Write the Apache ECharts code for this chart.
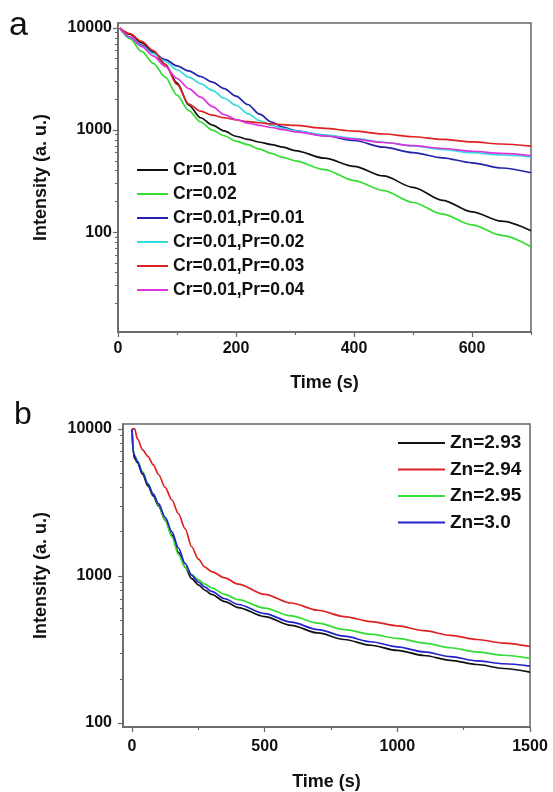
<!DOCTYPE html>
<html>
<head>
<meta charset="utf-8"/>
<title>Decay curves</title>
<script src="https://cdn.jsdelivr.net/npm/echarts@6/dist/echarts.min.js"></script>
<style>
  html, body { margin: 0; padding: 0; background: #fff; }
  #main { width: 553px; height: 792px; }
</style>
</head>
<body>
<div id="main"></div>
<script>
// ---- panel a : Cr / Pr doped samples ----
var timeA = [3, 20, 40, 60, 80, 100, 120, 140, 160, 180, 200, 220, 240, 260, 280, 300, 350, 400, 450, 500, 550, 600, 650, 700];
var cr001     = [10000, 8700, 7200, 5800, 4400, 2900, 1750, 1320, 1120, 980, 870, 810, 760, 720, 680, 630, 530, 440, 355, 275, 205, 158, 128, 103];
var cr002     = [10000, 7900, 5900, 4500, 3300, 2200, 1550, 1200, 1000, 880, 780, 720, 650, 590, 540, 500, 410, 320, 255, 195, 150, 118, 93, 72];
var crPr001   = [10000, 8100, 6800, 5700, 4900, 4250, 3800, 3350, 2950, 2550, 2150, 1780, 1430, 1200, 1070, 990, 880, 790, 680, 600, 535, 478, 425, 382];
var crPr002   = [10000, 8100, 6700, 5600, 4700, 3900, 3300, 2850, 2450, 2050, 1750, 1450, 1240, 1110, 1040, 985, 900, 830, 760, 700, 645, 600, 570, 545];
var crPr003   = [10000, 8800, 7400, 6000, 4400, 2800, 1800, 1530, 1400, 1320, 1260, 1210, 1180, 1150, 1130, 1110, 1040, 975, 915, 860, 810, 765, 730, 695];
var crPr004   = [10000, 8200, 6600, 5300, 4200, 3200, 2550, 2100, 1700, 1420, 1270, 1170, 1110, 1060, 1010, 960, 880, 815, 755, 705, 660, 620, 590, 560];
var namesA = ['Cr=0.01', 'Cr=0.02', 'Cr=0.01,Pr=0.01', 'Cr=0.01,Pr=0.02', 'Cr=0.01,Pr=0.03', 'Cr=0.01,Pr=0.04'];
var colorsA = ['#111111', '#33dd33', '#2222aa', '#33dddd', '#dd2222', '#dd33dd'];
var valuesA = [cr001, cr002, crPr001, crPr002, crPr003, crPr004];

// ---- panel b : Zn content ----
var timeB = [0, 5, 10, 20, 40, 60, 80, 100, 125, 150, 175, 200, 225, 250, 275, 300, 350, 400, 500, 600, 700, 800, 900, 1000, 1100, 1200, 1300, 1400, 1500];
var zn293 = [10000, 6800, 6300, 5900, 4900, 4100, 3500, 3000, 2400, 1900, 1450, 1150, 960, 870, 800, 750, 670, 610, 530, 462, 410, 370, 338, 312, 288, 267, 250, 235, 222];
var zn294 = [10000, 10000, 10000, 8600, 7200, 6500, 5700, 4900, 4000, 3300, 2650, 2100, 1580, 1300, 1150, 1070, 970, 880, 750, 655, 585, 530, 490, 458, 425, 395, 370, 350, 332];
var zn295 = [10000, 7100, 6600, 6100, 5100, 4250, 3600, 3050, 2400, 1850, 1400, 1150, 1020, 940, 880, 830, 750, 690, 605, 535, 478, 432, 402, 377, 350, 325, 305, 289, 275];
var zn300 = [10000, 7000, 6500, 6000, 5000, 4200, 3600, 3100, 2500, 2000, 1550, 1220, 1010, 910, 840, 785, 700, 640, 555, 485, 432, 390, 357, 330, 305, 283, 265, 253, 244];
var namesB = ['Zn=2.93', 'Zn=2.94', 'Zn=2.95', 'Zn=3.0'];
var colorsB = ['#111111', '#dd2222', '#33dd33', '#2222cc'];
var valuesB = [zn293, zn294, zn295, zn300];

// tick positions
var yLabels = [100, 1000, 10000];
var yMinorA = [20, 30, 40, 50, 60, 70, 80, 90, 200, 300, 400, 500, 600, 700, 800, 900, 2000, 3000, 4000, 5000, 6000, 7000, 8000, 9000];
var yMinorB = [200, 300, 400, 500, 600, 700, 800, 900, 2000, 3000, 4000, 5000, 6000, 7000, 8000, 9000];
var xLabelsA = [0, 200, 400, 600];
var xMinorA = [100, 300, 500, 700];
var xLabelsB = [0, 500, 1000, 1500];
var xMinorB = [250, 750, 1250];

var FONT = '"Liberation Sans", Arial, sans-serif';
var INK = '#111';
var FRAME = '#666';

function pairs(ts, vs) {
    return ts.map(function (t, i) { return [t, vs[i]]; });
}
function plain(v) {
    return String(Math.round(v));
}

var labelStyle = { color: INK, fontFamily: FONT, fontWeight: 'bold', fontSize: 16, formatter: plain };
var nameStyle = { color: INK, fontFamily: FONT, fontWeight: 'bold', fontSize: 18 };

function mainX(grid, min, max, labels, margin, gap) {
    return {
        type: 'value', gridIndex: grid, min: min, max: max,
        name: 'Time (s)', nameLocation: 'middle', nameGap: gap, nameTextStyle: nameStyle,
        axisLine: { onZero: false, lineStyle: { color: FRAME, width: 1.5 } },
        axisTick: { customValues: labels, length: 5, lineStyle: { color: FRAME, width: 1.2 } },
        axisLabel: Object.assign({ customValues: labels, margin: margin }, labelStyle),
        splitLine: { show: false }
    };
}
function minorX(grid, min, max, ticks) {
    return {
        type: 'value', gridIndex: grid, min: min, max: max, position: 'bottom',
        axisLine: { show: false, onZero: false },
        axisTick: { customValues: ticks, length: 3, lineStyle: { color: FRAME, width: 1.2 } },
        axisLabel: { show: false },
        splitLine: { show: false }
    };
}
function mainY(grid, min, max, margin, gap) {
    return {
        type: 'log', gridIndex: grid, min: min, max: max, logBase: 10,
        name: 'Intensity (a. u.)', nameLocation: 'middle', nameGap: gap, nameTextStyle: nameStyle,
        axisLine: { show: true, onZero: false, lineStyle: { color: FRAME, width: 1.5 } },
        axisTick: { show: true, customValues: yLabels, length: 5, lineStyle: { color: FRAME, width: 1.2 } },
        axisLabel: Object.assign({ customValues: yLabels, margin: margin }, labelStyle),
        splitLine: { show: false }
    };
}
function minorY(grid, min, max, ticks) {
    return {
        type: 'log', gridIndex: grid, min: min, max: max, logBase: 10, position: 'left',
        axisLine: { show: false, onZero: false },
        axisTick: { show: true, customValues: ticks, length: 3, lineStyle: { color: FRAME, width: 1 } },
        axisLabel: { show: false },
        splitLine: { show: false }
    };
}

var series = [];
valuesA.forEach(function (vals, i) {
    series.push({
        name: namesA[i], type: 'line', xAxisIndex: 0, yAxisIndex: 0,
        data: pairs(timeA, vals), symbol: 'none', smooth: 0.3, smoothMonotone: 'x',
        lineStyle: { color: colorsA[i], width: 1.7 }, itemStyle: { color: colorsA[i] },
        animation: false
    });
});
valuesB.forEach(function (vals, i) {
    series.push({
        name: namesB[i], type: 'line', xAxisIndex: 2, yAxisIndex: 2,
        data: pairs(timeB, vals), symbol: 'none', smooth: 0.3, smoothMonotone: 'x',
        lineStyle: { color: colorsB[i], width: 1.7 }, itemStyle: { color: colorsB[i] },
        animation: false
    });
});

var chart = echarts.init(document.getElementById('main'), null, { renderer: 'canvas' });
chart.setOption({
    backgroundColor: '#fff',
    animation: false,
    grid: [
        { left: 118, top: 23, width: 413, height: 309, show: true, borderColor: FRAME, borderWidth: 1.5 },
        { left: 123, top: 424, width: 407, height: 303, show: true, borderColor: FRAME, borderWidth: 1.5 }
    ],
    xAxis: [
        mainX(0, 0, 700, xLabelsA, 9, 42),
        minorX(0, 0, 700, xMinorA),
        mainX(1, -34, 1500, xLabelsB, 12, 46),
        minorX(1, -34, 1500, xMinorB)
    ],
    yAxis: [
        mainY(0, 10.5, 11200, 6, 68),
        minorY(0, 10.5, 11200, yMinorA),
        mainY(1, 94, 10800, 11, 73),
        minorY(1, 94, 10800, yMinorB)
    ],
    legend: [
        {
            data: namesA, orient: 'vertical', left: 137, top: 160, padding: 0,
            icon: 'rect', itemWidth: 31, itemHeight: 2, itemGap: 4, selectedMode: false,
            textStyle: { color: INK, fontFamily: FONT, fontWeight: 'bold', fontSize: 17.5, lineHeight: 20 }
        },
        {
            data: namesB, orient: 'vertical', left: 398, top: 432, padding: 0,
            icon: 'rect', itemWidth: 47, itemHeight: 2, itemGap: 4.5, selectedMode: false,
            textStyle: { color: INK, fontFamily: FONT, fontWeight: 'bold', fontSize: 19, lineHeight: 22 }
        }
    ],
    graphic: [
        { type: 'text', left: 9, top: 9, style: { text: 'a', font: 'normal 34px ' + FONT, fill: INK } },
        { type: 'text', left: 14, top: 399, style: { text: 'b', font: 'normal 32px ' + FONT, fill: INK } }
    ],
    series: series
});
</script>
</body>
</html>
